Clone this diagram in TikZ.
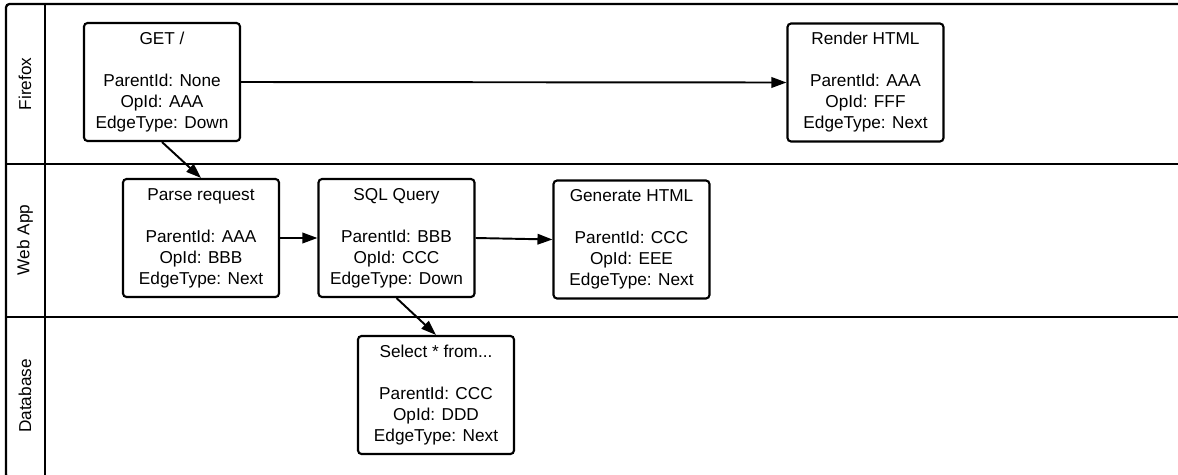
\documentclass[tikz,border=0pt]{standalone}
\usepackage{fontspec}
\setmainfont{Liberation Sans}
\usetikzlibrary{arrows.meta}

\tikzset{
  op/.style={draw,line width=1.2pt,rounded corners=2pt,minimum width=3.12cm,minimum height=2.36cm,inner sep=0pt,align=center,font=\fontsize{9.8}{11.95}\selectfont},
  lane/.style={rotate=90,font=\fontsize{9.8}{11.95}\selectfont},
  edge/.style={line width=1.1pt,-{Triangle[length=0.3cm,width=0.21cm]}}
}

\begin{document}
\begin{tikzpicture}[x=0.02cm,y=-0.02cm]
  \useasboundingbox (0,0) rectangle (1178,474);
  % swimlanes
  \draw[line width=1.3pt,rounded corners=2pt] (6,4) rectangle (1190,478);
  \draw[line width=1.3pt] (45,4)--(45,478);
  \draw[line width=1.3pt] (6,164)--(1190,164);
  \draw[line width=1.3pt] (6,317)--(1190,317);
  \node[lane] (firefox) at (25,84) {Firefox};
  \node[lane] (webapp) at (25,240) {Web App};
  \node[lane] (database) at (25,396) {Database};
  % operations
  \node[op] (get) at (162,82) {GET /\\[11.95pt]ParentId: None\\OpId: AAA\\EdgeType: Down};
  \node[op] (render) at (865.5,82.5) {Render HTML\\[11.95pt]ParentId: AAA\\OpId: FFF\\EdgeType: Next};
  \node[op] (parse) at (201,238) {Parse request\\[11.95pt]ParentId: AAA\\OpId: BBB\\EdgeType: Next};
  \node[op] (sql) at (396.5,238) {SQL Query\\[11.95pt]ParentId: BBB\\OpId: CCC\\EdgeType: Down};
  \node[op] (generate) at (631.5,239.5) {Generate HTML\\[11.95pt]ParentId: CCC\\OpId: EEE\\EdgeType: Next};
  \node[op] (select) at (436,395) {Select * from...\\[11.95pt]ParentId: CCC\\OpId: DDD\\EdgeType: Next};
  % edges
  \draw[edge] (get.east)--(render.west);
  \draw[edge] (get.south)--(parse.north);
  \draw[edge] (parse.east)--(sql.west);
  \draw[edge] (sql.east)--(generate.west);
  \draw[edge] (sql.south)--(select.north);
\end{tikzpicture}
\end{document}
